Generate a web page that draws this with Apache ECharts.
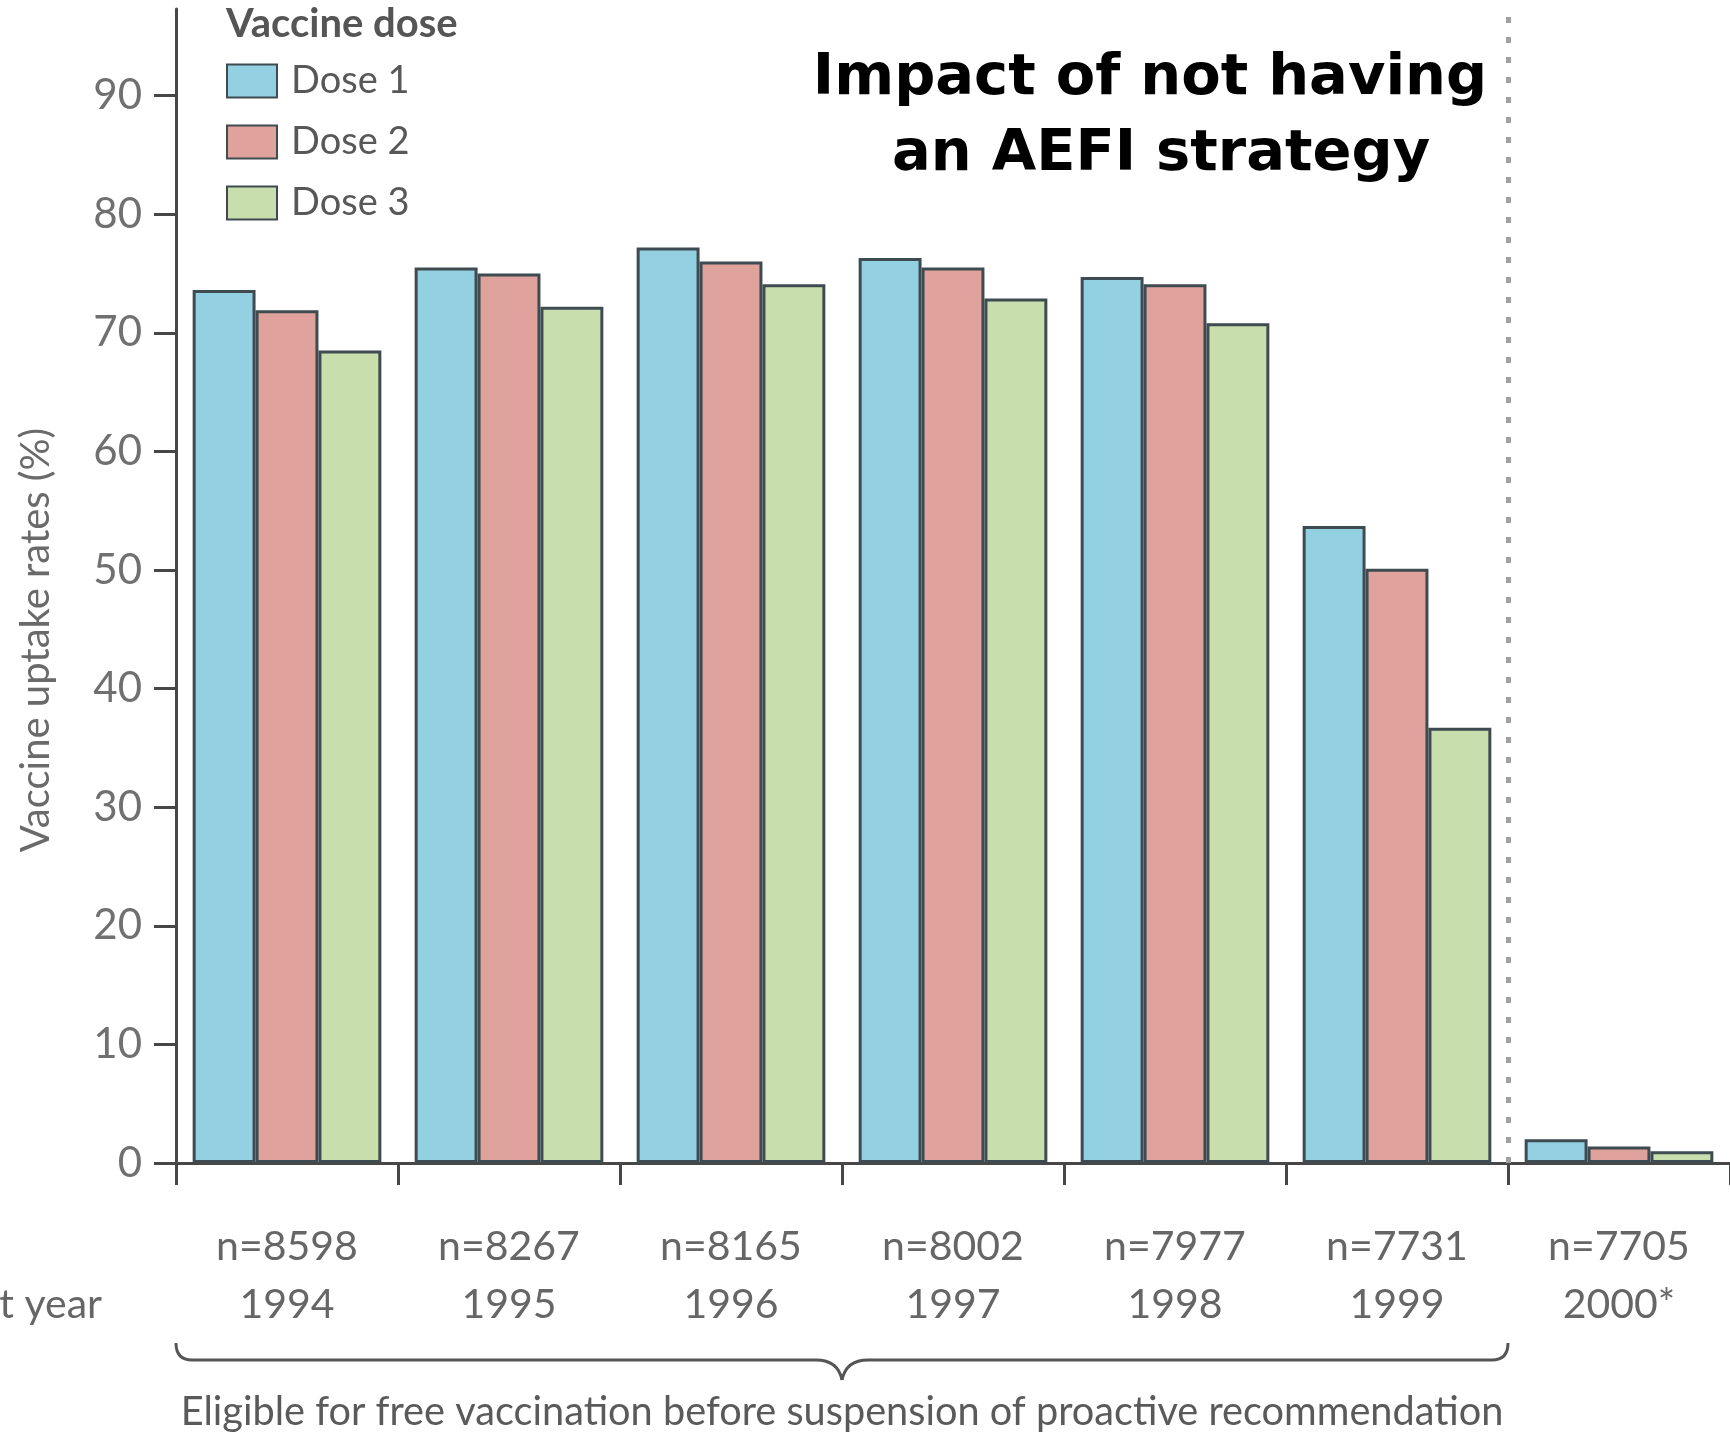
<!DOCTYPE html>
<html>
<head>
<meta charset="utf-8">
<script src="https://cdn.jsdelivr.net/npm/echarts@6/dist/echarts.min.js"></script>
<style>
html,body{margin:0;padding:0;background:#fff;}
#main{width:1730px;height:1440px;}
</style>
</head>
<body>
<div id="main"></div>
<script>
const years = ['1994', '1995', '1996', '1997', '1998', '1999', '2000*'];
const cohortN = ['n=8598', 'n=8267', 'n=8165', 'n=8002', 'n=7977', 'n=7731', 'n=7705'];
const dose1 = [73.6, 75.5, 77.2, 76.3, 74.7, 53.7, 2.0];
const dose2 = [71.9, 75.0, 76.0, 75.5, 74.1, 50.1, 1.4];
const dose3 = [68.5, 72.2, 74.1, 72.9, 70.8, 36.7, 1.0];
const yTicks = [0, 10, 20, 30, 40, 50, 60, 70, 80, 90];
const seriesNames = ['Dose 1', 'Dose 2', 'Dose 3'];

const categories = years.map((y, i) => cohortN[i] + '\n' + y);
const FONT = 'Lato';
const AXIS = '#474747';
const colors = ['#93d0e2', '#e0a29c', '#c8dfad'];
const border = '#3e4b50';

const chart = echarts.init(document.getElementById('main'), null, {renderer: 'canvas'});

function barSeries(name, data, idx) {
  return {
    name: name,
    type: 'bar',
    data: data,
    xAxisIndex: 0,
    yAxisIndex: 0,
    barGap: '0%',
    barCategoryGap: '15%',
    itemStyle: {color: colors[idx], borderColor: border, borderWidth: 3},
    emphasis: {disabled: true},
    animation: false
  };
}

const option = {
  animation: false,
  backgroundColor: '#ffffff',
  grid: {left: 176, right: 0, top: 9, bottom: 277, containLabel: false},
  legend: {
    orient: 'vertical',
    left: 226,
    top: 62,
    padding: 0,
    itemWidth: 50,
    itemHeight: 33,
    itemGap: 23,
    icon: 'rect',
    selectedMode: false,
    data: seriesNames,
    textStyle: {fontFamily: FONT, fontSize: 38, color: '#585858', lineHeight: 33, padding: [0, 0, 0, 9]}
  },
  xAxis: [{
    type: 'category',
    data: categories,
    axisLine: {show: true, lineStyle: {color: AXIS, width: 3}},
    axisTick: {show: true, length: 22, alignWithLabel: false, lineStyle: {color: AXIS, width: 3}},
    axisLabel: {interval: 0, margin: 55, fontFamily: FONT, fontSize: 41, lineHeight: 58, color: '#666666'},
    splitLine: {show: false}
  }, {
    type: 'value',
    min: 0,
    max: years.length,
    show: false
  }],
  yAxis: {
    type: 'value',
    min: 0,
    max: 97.3,
    axisLine: {show: true, lineStyle: {color: AXIS, width: 3}},
    axisTick: {show: true, length: 22, lineStyle: {color: AXIS, width: 3}, customValues: yTicks},
    axisLabel: {customValues: yTicks, fontFamily: FONT, fontSize: 42, color: '#707070', margin: 34},
    splitLine: {show: false}
  },
  series: [
    barSeries(seriesNames[0], dose1, 0),
    barSeries(seriesNames[1], dose2, 1),
    barSeries(seriesNames[2], dose3, 2),
    {
      type: 'line',
      xAxisIndex: 1,
      yAxisIndex: 0,
      data: [],
      silent: true,
      markLine: {
        silent: true,
        symbol: 'none',
        label: {show: false},
        lineStyle: {color: '#a0a0a0', width: 5, type: [6, 14]},
        data: [{xAxis: years.length - 1}]
      }
    }
  ]
};
chart.setOption(option);

// annotations positioned via the library's scales
const xStart = chart.convertToPixel({xAxisIndex: 1}, 0);
const xEnd = chart.convertToPixel({xAxisIndex: 1}, years.length - 1);
const xMid = chart.convertToPixel({xAxisIndex: 1}, 3);
const yZero = chart.convertToPixel({yAxisIndex: 0}, 0);
const yTop = yZero + 180, yH = yZero + 197, yTip = yZero + 217;
const r = 16, r2 = 26;
const braceStyle = {stroke: '#555555', lineWidth: 3, fill: null};

chart.setOption({
  graphic: [
    {
      type: 'text', x: 226, y: 24,
      style: {text: 'Vaccine dose', fontFamily: FONT, fontWeight: 'bold', fontSize: 40, fill: '#555555', align: 'left', verticalAlign: 'middle'}
    },
    {
      type: 'text', x: 1150, y: 79,
      style: {text: 'Impact of not having', fontFamily: 'DejaVu Sans', fontWeight: 'bold', fontSize: 57.5, fill: '#000000', align: 'center', verticalAlign: 'middle'}
    },
    {
      type: 'text', x: 1161, y: 155,
      style: {text: 'an AEFI strategy', fontFamily: 'DejaVu Sans', fontWeight: 'bold', fontSize: 57.5, fill: '#000000', align: 'center', verticalAlign: 'middle'}
    },
    {
      type: 'text', x: 36, y: 640, rotation: Math.PI / 2,
      style: {text: 'Vaccine uptake rates (%)', fontFamily: FONT, fontSize: 40, fill: '#6a6a6a', align: 'center', verticalAlign: 'middle'}
    },
    {
      type: 'text', x: 102, y: yZero + 142,
      style: {text: 'Cohort year', fontFamily: FONT, fontSize: 41, fill: '#666666', align: 'right', verticalAlign: 'middle'}
    },
    {type: 'bezierCurve', shape: {x1: xStart, y1: yTop, x2: xStart + r, y2: yH, cpx1: xStart, cpy1: yH}, style: braceStyle},
    {type: 'line', shape: {x1: xStart + r, y1: yH, x2: xMid - r2, y2: yH}, style: braceStyle},
    {type: 'bezierCurve', shape: {x1: xMid - r2, y1: yH, x2: xMid, y2: yTip, cpx1: xMid - 4, cpy1: yH}, style: braceStyle},
    {type: 'bezierCurve', shape: {x1: xMid, y1: yTip, x2: xMid + r2, y2: yH, cpx1: xMid + 4, cpy1: yH}, style: braceStyle},
    {type: 'line', shape: {x1: xMid + r2, y1: yH, x2: xEnd - r, y2: yH}, style: braceStyle},
    {type: 'bezierCurve', shape: {x1: xEnd - r, y1: yH, x2: xEnd, y2: yTop, cpx1: xEnd, cpy1: yH}, style: braceStyle},
    {
      type: 'text', x: xMid, y: yZero + 249,
      style: {text: 'Eligible for free vaccination before suspension of proactive recommendation', fontFamily: FONT, fontSize: 39.7, fill: '#5a5a5a', align: 'center', verticalAlign: 'middle'}
    }
  ]
});
</script>
</body>
</html>
